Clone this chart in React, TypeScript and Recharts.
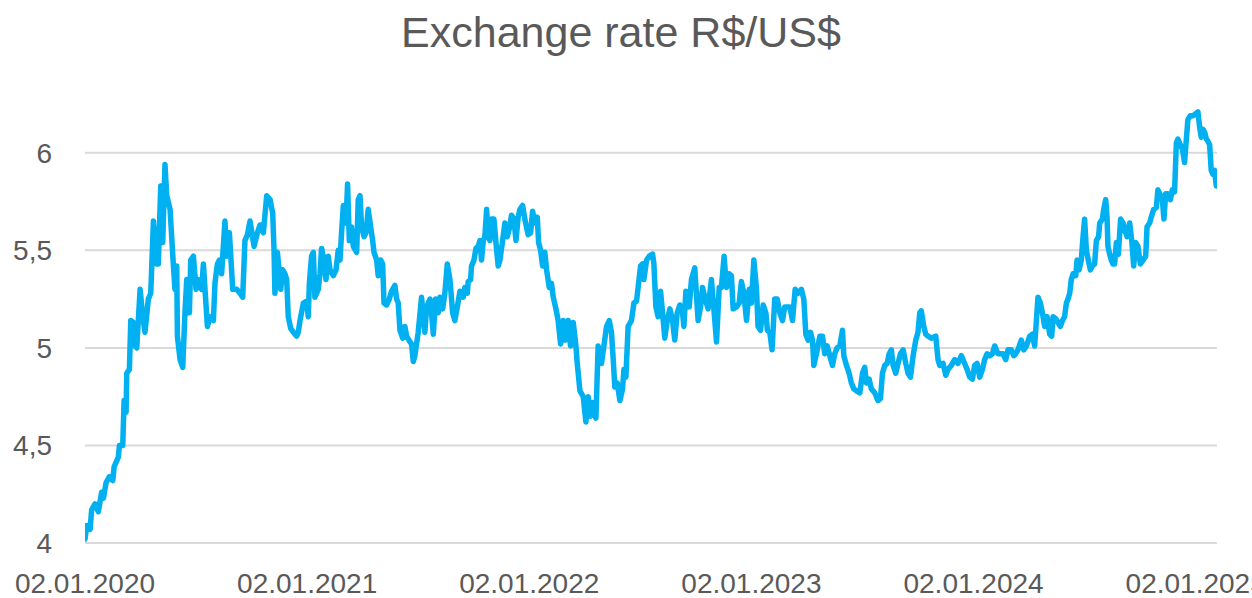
import { LineChart, Line, XAxis, YAxis, ReferenceLine } from 'recharts'

// years since 02.01.2020
const yearOffset = [
  0, 0.008, 0.023, 0.030, 0.045, 0.060, 0.075, 0.083, 0.095, 0.110, 0.125, 0.131, 0.150, 0.155, 0.170, 0.176,
  0.185, 0.188, 0.200, 0.206, 0.218, 0.225, 0.233, 0.248, 0.260, 0.270, 0.285, 0.296, 0.308, 0.323, 0.330, 0.341,
  0.350, 0.360, 0.368, 0.383, 0.398, 0.405, 0.413, 0.416, 0.428, 0.440, 0.450, 0.458, 0.470, 0.476, 0.488, 0.500,
  0.510, 0.525, 0.533, 0.551, 0.563, 0.578, 0.585, 0.596, 0.605, 0.615, 0.630, 0.638, 0.650, 0.665, 0.683, 0.698,
  0.710, 0.720, 0.731, 0.743, 0.761, 0.776, 0.788, 0.803, 0.818, 0.833, 0.845, 0.851, 0.855, 0.866, 0.875, 0.881,
  0.890, 0.900, 0.908, 0.915, 0.926, 0.938, 0.953, 0.960, 0.968, 0.983, 0.998, 1.005, 1.010, 1.020, 1.028, 1.035,
  1.050, 1.058, 1.065, 1.076, 1.085, 1.095, 1.103, 1.118, 1.130, 1.140, 1.148, 1.155, 1.163, 1.175, 1.182, 1.190,
  1.200, 1.208, 1.223, 1.230, 1.238, 1.245, 1.256, 1.265, 1.275, 1.286, 1.295, 1.301, 1.313, 1.320, 1.331, 1.340,
  1.346, 1.358, 1.370, 1.380, 1.395, 1.403, 1.410, 1.418, 1.430, 1.440, 1.448, 1.458, 1.470, 1.478, 1.485, 1.500,
  1.515, 1.530, 1.538, 1.553, 1.560, 1.568, 1.578, 1.590, 1.598, 1.610, 1.620, 1.631, 1.643, 1.655, 1.665, 1.676,
  1.688, 1.703, 1.710, 1.721, 1.725, 1.736, 1.740, 1.751, 1.760, 1.770, 1.778, 1.785, 1.793, 1.800, 1.808, 1.815,
  1.823, 1.830, 1.841, 1.850, 1.860, 1.868, 1.880, 1.890, 1.901, 1.910, 1.920, 1.931, 1.940, 1.950, 1.958, 1.970,
  1.980, 1.995, 2.006, 2.015, 2.025, 2.036, 2.042, 2.051, 2.060, 2.070, 2.078, 2.090, 2.100, 2.108, 2.120, 2.130,
  2.141, 2.153, 2.163, 2.175, 2.186, 2.198, 2.210, 2.216, 2.228, 2.243, 2.255, 2.265, 2.276, 2.285, 2.300, 2.310,
  2.325, 2.336, 2.348, 2.360, 2.370, 2.378, 2.385, 2.396, 2.408, 2.420, 2.426, 2.435, 2.445, 2.460, 2.471, 2.483,
  2.490, 2.501, 2.510, 2.516, 2.528, 2.540, 2.555, 2.561, 2.570, 2.580, 2.591, 2.600, 2.610, 2.621, 2.633, 2.645,
  2.655, 2.666, 2.678, 2.690, 2.696, 2.705, 2.720, 2.730, 2.745, 2.760, 2.771, 2.780, 2.790, 2.805, 2.820, 2.831,
  2.843, 2.855, 2.865, 2.877, 2.888, 2.900, 2.910, 2.918, 2.933, 2.945, 2.955, 2.966, 2.978, 2.990, 3.000, 3.011,
  3.023, 3.030, 3.041, 3.053, 3.065, 3.072, 3.083, 3.093, 3.105, 3.116, 3.128, 3.140, 3.150, 3.161, 3.173, 3.185,
  3.197, 3.210, 3.225, 3.236, 3.245, 3.255, 3.266, 3.275, 3.281, 3.293, 3.308, 3.320, 3.330, 3.341, 3.353, 3.365,
  3.375, 3.386, 3.398, 3.410, 3.416, 3.428, 3.440, 3.450, 3.461, 3.473, 3.488, 3.500, 3.510, 3.518, 3.530, 3.540,
  3.555, 3.570, 3.581, 3.590, 3.600, 3.611, 3.620, 3.630, 3.638, 3.650, 3.660, 3.671, 3.683, 3.695, 3.705, 3.716,
  3.728, 3.740, 3.750, 3.758, 3.765, 3.776, 3.785, 3.795, 3.810, 3.830, 3.840, 3.848, 3.863, 3.875, 3.885, 3.900,
  3.915, 3.930, 3.945, 3.960, 3.971, 3.983, 3.995, 4.005, 4.016, 4.028, 4.040, 4.050, 4.061, 4.073, 4.085, 4.095,
  4.110, 4.121, 4.133, 4.145, 4.155, 4.170, 4.181, 4.190, 4.200, 4.215, 4.226, 4.238, 4.253, 4.265, 4.275, 4.283,
  4.290, 4.301, 4.310, 4.320, 4.331, 4.343, 4.352, 4.358, 4.370, 4.380, 4.391, 4.400, 4.410, 4.418, 4.425, 4.433,
  4.440, 4.448, 4.460, 4.466, 4.475, 4.485, 4.493, 4.500, 4.508, 4.520, 4.526, 4.535, 4.545, 4.553, 4.563, 4.568,
  4.580, 4.586, 4.595, 4.601, 4.605, 4.613, 4.620, 4.628, 4.635, 4.643, 4.652, 4.662, 4.673, 4.682, 4.691, 4.703,
  4.713, 4.721, 4.730, 4.740, 4.751, 4.763, 4.775, 4.781, 4.793, 4.800, 4.811, 4.823, 4.830, 4.838, 4.850, 4.857,
  4.865, 4.875, 4.886, 4.895, 4.905, 4.913, 4.920, 4.931, 4.940, 4.950, 4.958, 4.965, 4.976, 4.988, 5.000, 5.010,
  5.018, 5.025, 5.033, 5.042, 5.048, 5.055, 5.063, 5.070, 5.078, 5.085, 5.093, 5.096,
]

// R$ per US$
const rates = [
  4.02, 4.09, 4.07, 4.17, 4.20, 4.16, 4.26, 4.23, 4.31, 4.34, 4.32, 4.39, 4.44, 4.50, 4.50, 4.73,
  4.67, 4.87, 4.89, 5.14, 5.13, 5.01, 5.00, 5.30, 5.16, 5.08, 5.25, 5.28, 5.65, 5.43, 5.43, 5.83,
  5.54, 5.94, 5.78, 5.71, 5.42, 5.30, 5.42, 5.06, 4.94, 4.90, 5.18, 5.35, 5.18, 5.45, 5.47, 5.30,
  5.35, 5.30, 5.43, 5.11, 5.16, 5.14, 5.33, 5.43, 5.45, 5.38, 5.65, 5.47, 5.59, 5.30, 5.30, 5.28,
  5.26, 5.55, 5.58, 5.65, 5.52, 5.59, 5.63, 5.59, 5.78, 5.76, 5.69, 5.50, 5.28, 5.49, 5.38, 5.30,
  5.40, 5.38, 5.35, 5.16, 5.10, 5.08, 5.06, 5.08, 5.14, 5.23, 5.24, 5.16, 5.33, 5.47, 5.49, 5.26,
  5.30, 5.38, 5.51, 5.45, 5.35, 5.47, 5.40, 5.37, 5.40, 5.50, 5.45, 5.59, 5.73, 5.64, 5.84, 5.55,
  5.62, 5.52, 5.49, 5.76, 5.78, 5.62, 5.57, 5.59, 5.71, 5.62, 5.55, 5.49, 5.45, 5.37, 5.45, 5.43,
  5.23, 5.22, 5.25, 5.29, 5.32, 5.25, 5.23, 5.09, 5.05, 5.11, 5.06, 5.04, 5.02, 4.93, 4.96, 5.08,
  5.26, 5.08, 5.21, 5.25, 5.18, 5.07, 5.25, 5.18, 5.26, 5.20, 5.28, 5.43, 5.35, 5.18, 5.14, 5.21,
  5.29, 5.26, 5.31, 5.28, 5.34, 5.35, 5.42, 5.45, 5.51, 5.52, 5.55, 5.45, 5.55, 5.57, 5.71, 5.57,
  5.55, 5.66, 5.66, 5.54, 5.42, 5.45, 5.55, 5.64, 5.57, 5.61, 5.68, 5.66, 5.55, 5.67, 5.71, 5.73,
  5.66, 5.58, 5.59, 5.70, 5.64, 5.67, 5.54, 5.50, 5.42, 5.49, 5.40, 5.31, 5.33, 5.26, 5.20, 5.14,
  5.02, 5.14, 5.04, 5.14, 5.01, 5.13, 5.01, 4.92, 4.78, 4.75, 4.62, 4.75, 4.65, 4.72, 4.64, 5.01,
  4.92, 5.01, 5.11, 5.14, 5.08, 4.94, 4.80, 4.82, 4.73, 4.79, 4.89, 4.85, 5.11, 5.14, 5.23, 5.24,
  5.31, 5.42, 5.43, 5.35, 5.45, 5.47, 5.48, 5.43, 5.21, 5.16, 5.29, 5.18, 5.05, 5.14, 5.20, 5.14,
  5.04, 5.18, 5.22, 5.18, 5.11, 5.29, 5.21, 5.35, 5.41, 5.14, 5.21, 5.31, 5.26, 5.20, 5.35, 5.20,
  5.03, 5.31, 5.31, 5.47, 5.31, 5.38, 5.37, 5.20, 5.21, 5.23, 5.34, 5.28, 5.14, 5.30, 5.23, 5.45,
  5.30, 5.11, 5.09, 5.22, 5.18, 5.09, 5.08, 4.99, 5.25, 5.25, 5.18, 5.14, 5.21, 5.21, 5.21, 5.14,
  5.30, 5.28, 5.30, 5.25, 5.07, 5.04, 5.08, 5.04, 4.91, 4.97, 5.06, 5.06, 4.97, 5.01, 4.96, 4.91,
  4.97, 5.00, 5.01, 5.09, 4.96, 4.91, 4.87, 4.82, 4.79, 4.78, 4.77, 4.87, 4.90, 4.82, 4.84, 4.79,
  4.77, 4.73, 4.74, 4.87, 4.91, 4.92, 4.97, 4.99, 4.91, 4.87, 4.92, 4.97, 4.99, 4.92, 4.87, 4.85,
  4.96, 5.04, 5.08, 5.18, 5.19, 5.11, 5.07, 5.06, 5.05, 5.06, 4.94, 4.91, 4.92, 4.86, 4.89, 4.91,
  4.94, 4.92, 4.96, 4.92, 4.89, 4.85, 4.84, 4.91, 4.92, 4.85, 4.89, 4.94, 4.97, 4.96, 4.97, 5.01,
  4.97, 4.97, 4.97, 4.94, 4.99, 4.99, 4.96, 4.97, 4.99, 5.04, 4.99, 5.01, 5.06, 5.07, 5.01, 5.14,
  5.26, 5.23, 5.18, 5.11, 5.16, 5.07, 5.06, 5.16, 5.15, 5.13, 5.11, 5.14, 5.16, 5.23, 5.25, 5.28,
  5.35, 5.38, 5.37, 5.45, 5.40, 5.45, 5.57, 5.66, 5.50, 5.43, 5.40, 5.42, 5.43, 5.55, 5.57, 5.64,
  5.66, 5.71, 5.76, 5.67, 5.52, 5.48, 5.45, 5.43, 5.43, 5.54, 5.48, 5.66, 5.64, 5.60, 5.57, 5.64,
  5.54, 5.42, 5.54, 5.52, 5.43, 5.45, 5.47, 5.62, 5.64, 5.67, 5.71, 5.72, 5.81, 5.79, 5.76, 5.66,
  5.79, 5.79, 5.76, 5.81, 5.80, 6.05, 6.07, 6.04, 6.02, 5.95, 6.07, 6.17, 6.19, 6.19, 6.20, 6.21,
  6.13, 6.08, 6.12, 6.10, 6.07, 6.06, 6.04, 5.91, 5.89, 5.91, 5.83, 5.86,
]

const yTicks = [4, 4.5, 5, 5.5, 6]
const xTicks = [0, 1, 2, 3, 4, 5]
const startYear = 2020

const data = yearOffset.map((t, i) => ({ t, rate: rates[i] }))

const tickStyle = { fill: '#595959', fontSize: 28, fontFamily: '"Liberation Sans", Arial, sans-serif' }

export default function App() {
  return (
    <div style={{ position: 'fixed', top: 0, left: 0, width: 1252, height: 598, background: '#fff' }}>
      <div
        style={{
          position: 'absolute', top: 8, left: 0, width: 1242, textAlign: 'center',
          fontFamily: '"Liberation Sans", Arial, sans-serif', fontSize: 43, color: '#595959',
        }}
      >
        Exchange rate R$/US$
      </div>
      <LineChart width={1252} height={598} data={data} margin={{ top: 104, right: 35, bottom: 0, left: 0 }}>
        {yTicks.map(v => (
          <ReferenceLine key={v} y={v} stroke="#d9d9d9" strokeWidth={2} />
        ))}
        <XAxis
          dataKey="t" type="number" domain={[0, 5.096]} allowDataOverflow
          ticks={xTicks} interval={0} height={55}
          tickFormatter={v => `02.01.${startYear + v}`}
          tick={tickStyle} axisLine={false} tickLine={false} tickSize={0} tickMargin={30}
        />
        <YAxis
          type="number" domain={[4, 6.25]} ticks={yTicks} interval={0} width={85}
          tickFormatter={v => String(v).replace('.', ',')}
          tick={tickStyle} axisLine={false} tickLine={false} tickSize={0} tickMargin={33}
        />
        <Line
          type="linear" dataKey="rate" stroke="#00b0f0" strokeWidth={5.5}
          strokeLinejoin="round" strokeLinecap="round" dot={false} isAnimationActive={false}
        />
      </LineChart>
    </div>
  )
}
